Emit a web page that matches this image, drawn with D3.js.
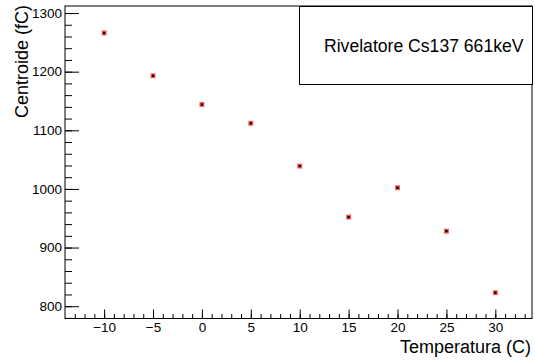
<!DOCTYPE html>
<html>
<head>
<meta charset="utf-8">
<script src="https://cdn.jsdelivr.net/npm/d3@7"></script>
<style>
  body { margin: 0; background: #fff; }
  svg { display: block; font-family: "Liberation Sans", Arial, sans-serif; }
</style>
</head>
<body>
<svg id="chart" width="535" height="360"></svg>
<script>
// data
const temperatures = [-10, -5, 0, 5, 10, 15, 20, 25, 30];
const centroids = [1266, 1193, 1144, 1112, 1039, 952, 1002, 928, 823];
const xTicks = [-10, -5, 0, 5, 10, 15, 20, 25, 30];
const yTicks = [800, 900, 1000, 1100, 1200, 1300];
const legendText = "Rivelatore Cs137 661keV";

const svg = d3.select("#chart");
const frame = { left: 65, right: 532, top: 6, bottom: 318.5 };

const x = d3.scaleLinear().domain([-14, 33.75]).range([frame.left, frame.right]);
const y = d3.scaleLinear().domain([779, 1312]).range([frame.bottom, frame.top]);

// minor ticks first
svg.append("g")
   .attr("transform", `translate(0,${frame.bottom})`)
   .call(d3.axisBottom(x).tickValues(d3.range(-13, 34, 1)).tickSize(-4.5).tickFormat(""))
   .call(g => g.select(".domain").remove());
svg.append("g")
   .attr("transform", `translate(${frame.left},0)`)
   .call(d3.axisLeft(y).tickValues(d3.range(780, 1312, 20)).tickSize(-7).tickFormat(""))
   .call(g => g.select(".domain").remove());

// major ticks + labels
svg.append("g")
   .attr("class", "xaxis")
   .attr("transform", `translate(0,${frame.bottom})`)
   .call(d3.axisBottom(x).tickValues(xTicks).tickSize(-9).tickPadding(4))
   .call(g => g.select(".domain").remove());
svg.append("g")
   .attr("class", "yaxis")
   .attr("transform", `translate(${frame.left},0)`)
   .call(d3.axisLeft(y).tickValues(yTicks).tickFormat(d3.format("d")).tickSize(-14).tickPadding(3))
   .call(g => g.select(".domain").remove());

svg.selectAll(".tick line").attr("stroke", "#000");
svg.selectAll(".tick text").attr("fill", "#000").style("font-size", "13.5px")
   .style("font-family", "'Liberation Sans', Arial, sans-serif");

// frame
svg.append("rect")
   .attr("x", frame.left).attr("y", frame.top)
   .attr("width", frame.right - frame.left).attr("height", frame.bottom - frame.top)
   .attr("fill", "none").attr("stroke", "#000").attr("stroke-width", 1);

// axis titles
svg.append("text")
   .attr("transform", "translate(28,5) rotate(-90)")
   .attr("text-anchor", "end")
   .style("font-size", "18px")
   .text("Centroide (fC)");
svg.append("text")
   .attr("x", 531).attr("y", 353)
   .attr("text-anchor", "end")
   .style("font-size", "18px")
   .text("Temperatura (C)");

// points
const pts = svg.append("g").selectAll("g")
   .data(temperatures.map((t, i) => ({ t, c: centroids[i] })))
   .join("g")
   .attr("transform", d => `translate(${x(d.t)},${y(d.c)})`);
pts.append("rect").attr("x", -2.5).attr("y", -2.5).attr("width", 5).attr("height", 5)
   .attr("fill", "#ff6060");
pts.append("rect").attr("x", -1.2).attr("y", -1.2).attr("width", 2.4).attr("height", 2.4)
   .attr("fill", "#000");

// legend box
svg.append("rect")
   .attr("x", 299.5).attr("y", 6.5).attr("width", 233).attr("height", 78)
   .attr("fill", "#fff").attr("stroke", "#000");
svg.append("text")
   .attr("x", 324).attr("y", 52)
   .style("font-size", "17.6px")
   .text(legendText);
</script>
</body>
</html>
